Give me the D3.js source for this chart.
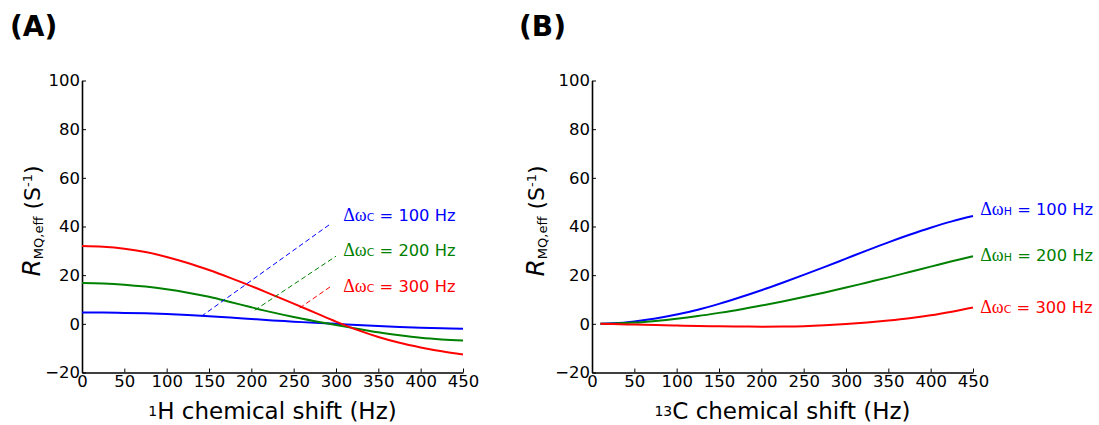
<!DOCTYPE html>
<html>
<head>
<meta charset="utf-8">
<script src="https://cdn.jsdelivr.net/npm/d3@7"></script>
<style>
  html, body { margin: 0; padding: 0; background: #fff; }
  svg { display: block; }
  text { font-family: "DejaVu Sans", sans-serif; }
</style>
</head>
<body>
<svg id="fig" width="1099" height="425"></svg>
<script>
// ---- data -------------------------------------------------------------
// (A) R_MQ,eff versus 1H chemical shift for three 13C offsets
const xA     = [0, 25, 50, 75, 100, 125, 150, 175, 200, 225, 250, 275, 300, 325, 350, 375, 400, 425, 450];
const redA   = [32.0, 31.7, 30.9, 29.5, 27.5, 25.0, 22.1, 18.9, 15.5, 11.9, 8.3, 4.6, 0.9, -2.5, -5.4, -7.8, -9.7, -11.3, -12.6];
const greenA = [16.8, 16.6, 16.1, 15.3, 14.2, 12.8, 11.1, 9.0, 6.8, 4.7, 2.8, 1.1, -0.5, -2.0, -3.5, -4.7, -5.7, -6.4, -6.9];
const blueA  = [4.7, 4.65, 4.5, 4.3, 4.0, 3.6, 3.1, 2.6, 2.0, 1.4, 0.9, 0.4, 0.0, -0.5, -0.9, -1.3, -1.6, -1.8, -2.0];

// (B) R_MQ,eff versus 13C chemical shift
const xB     = [10, 25, 50, 75, 100, 125, 150, 175, 200, 225, 250, 275, 300, 325, 350, 375, 400, 425, 450];
const blueB  = [0, 0.2, 1.0, 2.2, 3.8, 5.8, 8.2, 10.9, 13.8, 16.9, 20.1, 23.4, 26.8, 30.2, 33.5, 36.6, 39.5, 42.1, 44.3];
const greenB = [0, 0.1, 0.5, 1.2, 2.1, 3.2, 4.5, 5.9, 7.5, 9.2, 11.0, 12.9, 14.9, 17.0, 19.1, 21.3, 23.5, 25.7, 27.8];
const redB   = [0, -0.1, -0.3, -0.5, -0.7, -0.85, -1.0, -1.1, -1.15, -1.1, -0.95, -0.6, -0.1, 0.55, 1.35, 2.3, 3.5, 5.0, 6.7];

// axes
const xTicks = [0, 50, 100, 150, 200, 250, 300, 350, 400, 450];
const yTicks = [-20, 0, 20, 40, 60, 80, 100];

// curve labels
const offsetsA   = ["100", "200", "300"];
const nucleiA    = ["C", "C", "C"];
const offsetsB   = ["100", "200", "300"];
const nucleiB    = ["H", "H", "C"];

// annotation anchors (data units): label start and leader line endpoints
const labelPosA = [[308.6, 42.1], [308.6, 27.7], [308.6, 13.1]];
const leaderA   = [[141, 3.1, 294, 41.2], [204, 5.6, 300, 27.8], [257, 6.5, 295.6, 15.8]];
const labelPosB = [[458.6, 44.6], [458.6, 25.8], [458.6, 4.6]];

const colors = ["#0000ff", "#008000", "#ff0000"];

// ---- drawing ---------------------------------------------------------
const svg = d3.select("#fig");
svg.append("rect").attr("width", 1099).attr("height", 425).attr("fill", "#fff");

function panel(opts) {
  const x = d3.scaleLinear().domain([0, 450]).range([opts.left, opts.left + 381]);
  const y = d3.scaleLinear().domain([-20, 100]).range([372.5, 80.5]);
  const g = svg.append("g");

  // y axis
  const ya = d3.axisLeft(y).tickValues(yTicks).tickSizeInner(-4).tickSizeOuter(0).tickPadding(2)
    .tickFormat(d => d < 0 ? "\u2212" + Math.abs(d) : d);
  g.append("g").attr("transform", `translate(${opts.left},0)`).call(ya)
    .call(s => s.select(".domain").attr("stroke", "#000").attr("stroke-width", 1.6))
    .call(s => s.selectAll(".tick line").attr("stroke", "#000").attr("stroke-width", 1))
    .call(s => s.selectAll(".tick text").attr("font-size", 16.5).attr("fill", "#000")
      .attr("font-family", "DejaVu Sans"));

  // x axis
  const xa = d3.axisBottom(x).tickValues(xTicks).tickSizeInner(-4).tickSizeOuter(0).tickPadding(3);
  g.append("g").attr("transform", "translate(0,372.5)").call(xa)
    .call(s => s.select(".domain").attr("stroke", "#000").attr("stroke-width", 1.6))
    .call(s => s.selectAll(".tick line").attr("stroke", "#000").attr("stroke-width", 1))
    .call(s => s.selectAll(".tick text").attr("font-size", 16.5).attr("fill", "#000")
      .attr("font-family", "DejaVu Sans"));

  // curves
  const line = d3.line().x(d => x(d[0])).y(d => y(d[1])).curve(d3.curveCatmullRom.alpha(0.5));
  opts.series.forEach((vals, i) => {
    g.append("path").datum(opts.xs.map((v, k) => [v, vals[k]]))
      .attr("d", line).attr("fill", "none").attr("stroke", colors[i]).attr("stroke-width", 2);
  });

  // leader lines
  (opts.leaders || []).forEach((l, i) => {
    g.append("line").attr("x1", x(l[0])).attr("y1", y(l[1])).attr("x2", x(l[2])).attr("y2", y(l[3]))
      .attr("stroke", colors[i]).attr("stroke-width", 1).attr("stroke-dasharray", "5,3");
  });

  // labels: Δω with nucleus subscript
  opts.labels.forEach((p, i) => {
    const t = g.append("text").attr("x", x(p[0])).attr("y", y(p[1])).attr("fill", colors[i])
      .attr("font-size", 16.3);
    t.append("tspan").attr("font-family", "Liberation Serif, serif").attr("font-size", 18).text("\u0394\u03c9");
    t.append("tspan").attr("font-size", 11).text(opts.nuclei[i]);
    t.append("tspan").text(" = " + opts.offsets[i] + " Hz");
  });

  // axis titles
  const xt = g.append("text").attr("x", opts.left + 190.5).attr("y", 419).attr("text-anchor", "middle")
    .attr("font-size", 23).attr("fill", "#000");
  xt.append("tspan").attr("font-size", 14).attr("dy", -3).text(opts.iso);
  xt.append("tspan").attr("dy", 3).text(opts.nuc + " chemical shift (Hz)");

  const yt = g.append("text").attr("transform", `translate(${opts.ylabX},221) rotate(-90)`)
    .attr("text-anchor", "middle").attr("font-size", 22).attr("fill", "#000");
  yt.append("tspan").attr("font-style", "italic").attr("font-size", 25).text("R");
  yt.append("tspan").attr("font-size", 13).attr("dy", 3).text("MQ,eff");
  yt.append("tspan").attr("dy", -3).text(" (S");
  yt.append("tspan").attr("font-size", 13).attr("dy", -8).text("-1");
  yt.append("tspan").attr("dy", 8).text(")");

  // panel tag
  svg.append("text").attr("x", opts.tagX).attr("y", 36).attr("font-size", 28).attr("font-weight", "bold")
    .attr("fill", "#000").text(opts.tag);
}

panel({
  left: 82, tag: "(A)", tagX: 10, iso: "1", nuc: "H", ylabX: 40,
  xs: xA, series: [blueA, greenA, redA],
  labels: labelPosA, leaders: leaderA, nuclei: nucleiA, offsets: offsetsA
});
panel({
  left: 592, tag: "(B)", tagX: 519, iso: "13", nuc: "C", ylabX: 544,
  xs: xB, series: [blueB, greenB, redB],
  labels: labelPosB, nuclei: nucleiB, offsets: offsetsB
});
</script>
</body>
</html>
